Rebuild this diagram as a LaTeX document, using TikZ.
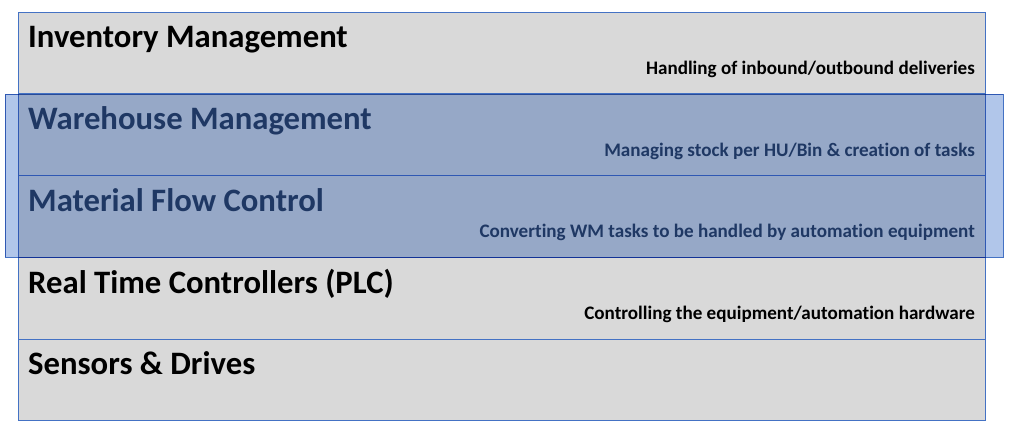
\documentclass[tikz,border=0pt]{standalone}
\usepackage{fontspec}
\setmainfont{Carlito}[Ligatures=NoCommon]
\definecolor{layergray}{HTML}{D9D9D9}
\definecolor{layerline}{HTML}{4472C4}
\definecolor{wmblue}{HTML}{B1C6EA}
\definecolor{wmtext}{HTML}{1F3864}
\usepackage{tikz}
\usetikzlibrary{positioning}

\begin{document}
\begin{tikzpicture}[
      x=1pt, y=-1pt,
      layer/.style={rectangle, draw=layerline, fill=layergray, line width=0.75pt,
                    minimum width=967pt, minimum height=81.75pt, inner sep=0pt},
      overlay box/.style={rectangle, draw=layerline, fill=wmblue, line width=0.75pt,
                    minimum width=998pt, minimum height=163pt, inner sep=0pt},
      title/.style={anchor=base west, inner sep=0pt, font=\fontsize{32.7}{36}\selectfont\bfseries},
      sub/.style={anchor=base east, inner sep=0pt, font=\fontsize{19.1}{22}\selectfont\bfseries}
    ]
      \useasboundingbox (0,0) rectangle (1010,438);

      % Layers, top to bottom
      \node[layer] (inv) at (501.5,52.9) {};
      \node[layer] (wm) at (501.5,134.6) {};
      \node[layer] (mfc) at (501.5,216.4) {};
      \node[layer] (plc) at (501.5,298.1) {};
      \node[layer] (sens) at (501.5,379.9) {};

      % Highlight over WM and MFC
      \begin{scope}[blend mode=multiply]
        \node[overlay box] (focus) at (504,176) {};
      \end{scope}

      % Layer titles
      \node[title] (invT) at (28,48) {Inventory Management};
      \node[title, text=wmtext] (wmT) at (28,130) {Warehouse Management};
      \node[title, text=wmtext] (mfcT) at (28,212) {Material Flow Control};
      \node[title] (plcT) at (28,293.5) {Real Time Controllers (PLC)};
      \node[title] (sensT) at (28,375) {Sensors \& Drives};

      % Layer descriptions
      \node[sub] (invS) at (975,74.5) {Handling of inbound/outbound deliveries};
      \node[sub, text=wmtext] (wmS) at (975,156.5) {Managing stock per HU/Bin \& creation of tasks};
      \node[sub, text=wmtext] (mfcS) at (975,238) {Converting WM tasks to be handled by automation equipment};
      \node[sub] (plcS) at (975,319.5) {Controlling the equipment/automation hardware};

    \end{tikzpicture}
\end{document}
